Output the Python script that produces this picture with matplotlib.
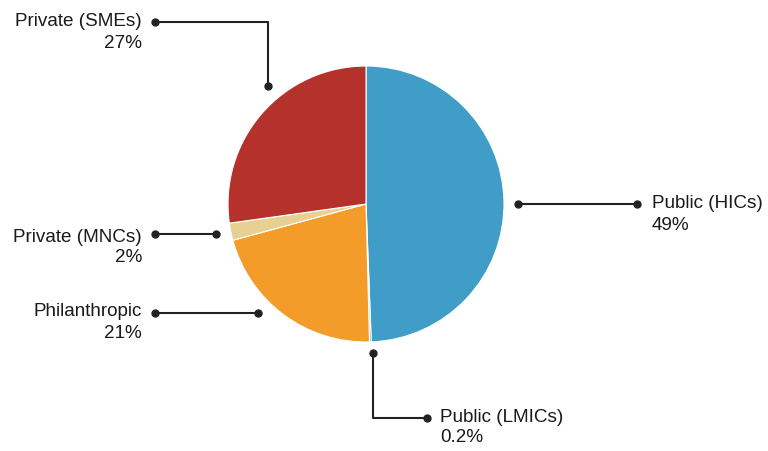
import matplotlib
matplotlib.use("Agg")
import matplotlib.pyplot as plt

# Funding shares, clockwise from 12 o'clock
labels = ["Public (HICs)", "Public (LMICs)", "Philanthropic", "Private (MNCs)", "Private (SMEs)"]
values = [49, 0.2, 21, 2, 27]
pct_text = ["49%", "0.2%", "21%", "2%", "27%"]
colors = ["#409DC7", "#27B9DF", "#F49C29", "#E8CF92", "#B5312B"]

W, H = 768, 451
plt.rcParams["font.family"] = ["Liberation Sans", "DejaVu Sans"]

fig = plt.figure(figsize=(W / 100, H / 100), dpi=100)
ax = fig.add_axes([0, 0, 1, 1])


def py(y):
    # pixel row (from top) -> data y
    return H - y


cx, cy, r = 366, 204, 138
ax.pie(values, colors=colors, startangle=90, counterclock=False,
       center=(cx, py(cy)), radius=r, frame=True,
       wedgeprops=dict(edgecolor="white", linewidth=0.8))
ax.set_xlim(0, W)
ax.set_ylim(0, H)
ax.set_aspect("equal")
ax.axis("off")

line_kw = dict(color="#222222", lw=1.5, solid_capstyle="butt")
dot_kw = dict(color="#222222", ms=5, marker="o", ls="none")


def callout(pts, text_xy, idx, ha):
    xs = [p[0] for p in pts]
    ys = [py(p[1]) for p in pts]
    ax.plot(xs, ys, **line_kw)
    ax.plot([xs[0], xs[-1]], [ys[0], ys[-1]], **dot_kw)
    tx, ty = text_xy
    ax.text(tx, py(ty), labels[idx], ha=ha, va="center", fontsize=13.6, color="#1a1a1a")
    ax.text(tx, py(ty + 21), pct_text[idx], ha=ha, va="center", fontsize=13.6, color="#1a1a1a")


callout([(518, 204), (637, 204)], (652, 204), 0, "left")
callout([(373, 353), (373, 418), (427, 418)], (440, 417), 1, "left")
callout([(258, 313), (155, 313)], (142, 312), 2, "right")
callout([(216, 234), (155, 234)], (142, 237), 3, "right")
callout([(268, 86), (268, 22), (155, 22)], (142, 22), 4, "right")

fig.savefig("out.png", dpi=100)
